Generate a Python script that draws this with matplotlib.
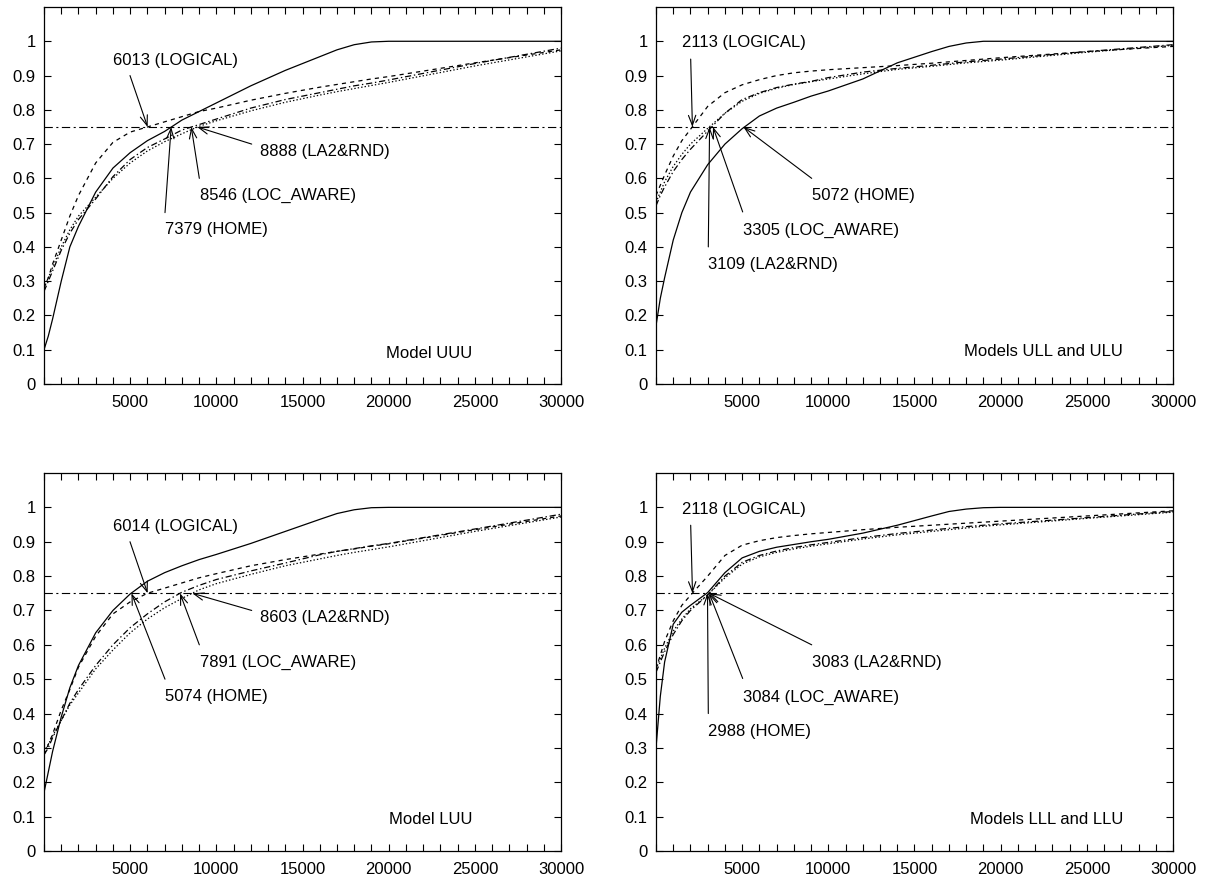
import matplotlib
matplotlib.use("Agg")
import matplotlib.pyplot as plt

plt.rcParams['font.family'] = ['Liberation Sans', 'DejaVu Sans']
plt.rcParams['font.size'] = 12
plt.rcParams['lines.scale_dashes'] = False

# ---------------------------
# Data
# ---------------------------
x = [0, 250, 500, 1000, 1500, 2000, 3000, 4000, 5000, 6000, 7000, 8000, 9000,
     10000, 12000, 14000, 16000, 17000, 18000, 19000, 20000, 25000, 30000]

# Model UUU
uuu_home = [0.10, 0.14, 0.19, 0.30, 0.40, 0.46, 0.56, 0.63, 0.675, 0.71, 0.737, 0.77, 0.795,
            0.82, 0.87, 0.915, 0.955, 0.975, 0.99, 0.998, 1.0, 1.0, 1.0]
uuu_logical = [0.28, 0.31, 0.35, 0.42, 0.49, 0.55, 0.645, 0.705, 0.735, 0.75, 0.765, 0.78, 0.795,
               0.805, 0.828, 0.848, 0.866, 0.874, 0.882, 0.89, 0.897, 0.937, 0.975]
uuu_locaware = [0.27, 0.30, 0.33, 0.39, 0.44, 0.48, 0.54, 0.605, 0.655, 0.69, 0.715, 0.741, 0.757,
                0.773, 0.805, 0.83, 0.85, 0.86, 0.87, 0.878, 0.887, 0.935, 0.98]
uuu_la2rnd = [0.28, 0.31, 0.34, 0.40, 0.45, 0.49, 0.545, 0.60, 0.645, 0.68, 0.707, 0.73, 0.752,
              0.768, 0.797, 0.822, 0.843, 0.853, 0.862, 0.871, 0.88, 0.928, 0.972]

# Models ULL and ULU
ull_home = [0.17, 0.25, 0.31, 0.42, 0.50, 0.56, 0.64, 0.70, 0.745, 0.782, 0.805, 0.822, 0.84,
            0.855, 0.89, 0.937, 0.97, 0.985, 0.995, 1.0, 1.0, 1.0, 1.0]
ull_logical = [0.55, 0.58, 0.61, 0.665, 0.71, 0.743, 0.81, 0.85, 0.873, 0.888, 0.90, 0.908, 0.913,
               0.917, 0.923, 0.929, 0.936, 0.94, 0.944, 0.948, 0.952, 0.97, 0.985]
ull_locaware = [0.52, 0.55, 0.575, 0.62, 0.655, 0.685, 0.738, 0.79, 0.83, 0.85, 0.865, 0.875, 0.883,
                0.894, 0.91, 0.921, 0.93, 0.935, 0.94, 0.944, 0.948, 0.97, 0.99]
ull_la2rnd = [0.53, 0.56, 0.59, 0.635, 0.67, 0.70, 0.746, 0.79, 0.825, 0.848, 0.863, 0.874, 0.882,
              0.89, 0.905, 0.918, 0.927, 0.932, 0.937, 0.941, 0.945, 0.968, 0.988]

# Model LUU
luu_home = [0.17, 0.23, 0.29, 0.39, 0.475, 0.54, 0.635, 0.70, 0.748, 0.785, 0.81, 0.83, 0.848,
            0.863, 0.895, 0.93, 0.965, 0.982, 0.993, 0.999, 1.0, 1.0, 1.0]
luu_logical = [0.28, 0.31, 0.34, 0.41, 0.47, 0.535, 0.625, 0.69, 0.725, 0.75, 0.765, 0.78, 0.795,
               0.807, 0.83, 0.848, 0.864, 0.872, 0.879, 0.887, 0.894, 0.935, 0.975]
luu_locaware = [0.28, 0.30, 0.33, 0.38, 0.43, 0.47, 0.54, 0.60, 0.65, 0.69, 0.725, 0.753, 0.773,
                0.79, 0.815, 0.838, 0.862, 0.872, 0.88, 0.888, 0.895, 0.937, 0.98]
luu_la2rnd = [0.29, 0.31, 0.335, 0.38, 0.425, 0.46, 0.53, 0.585, 0.635, 0.675, 0.708, 0.735, 0.76,
              0.778, 0.805, 0.83, 0.85, 0.86, 0.869, 0.877, 0.885, 0.93, 0.972]

# Models LLL and LLU
lll_home = [0.30, 0.45, 0.55, 0.66, 0.695, 0.715, 0.752, 0.81, 0.853, 0.872, 0.884, 0.892, 0.90,
            0.907, 0.925, 0.948, 0.975, 0.988, 0.995, 0.999, 1.0, 1.0, 1.0]
lll_logical = [0.53, 0.57, 0.61, 0.67, 0.715, 0.744, 0.80, 0.86, 0.89, 0.903, 0.912, 0.918, 0.923,
               0.927, 0.935, 0.942, 0.948, 0.951, 0.954, 0.957, 0.96, 0.975, 0.99]
lll_locaware = [0.52, 0.55, 0.58, 0.63, 0.67, 0.70, 0.745, 0.80, 0.84, 0.86, 0.873, 0.883, 0.891,
                0.898, 0.912, 0.924, 0.934, 0.939, 0.944, 0.948, 0.952, 0.97, 0.988]
lll_la2rnd = [0.53, 0.56, 0.59, 0.64, 0.675, 0.705, 0.745, 0.795, 0.835, 0.856, 0.869, 0.879, 0.887,
              0.894, 0.908, 0.92, 0.93, 0.935, 0.94, 0.945, 0.949, 0.968, 0.986]

titles = ["Model UUU", "Models ULL and ULU", "Model LUU", "Models LLL and LLU"]
series_names = ["HOME", "LOGICAL", "LOC_AWARE", "LA2&RND"]
# value where each curve reaches 0.75 (HOME, LOGICAL, LOC_AWARE, LA2&RND)
uuu_marks = [7379, 6013, 8546, 8888]
ull_marks = [5072, 2113, 3305, 3109]
luu_marks = [5074, 6014, 7891, 8603]
lll_marks = [2988, 2118, 3084, 3083]

panels = [
    (uuu_home, uuu_logical, uuu_locaware, uuu_la2rnd, uuu_marks),
    (ull_home, ull_logical, ull_locaware, ull_la2rnd, ull_marks),
    (luu_home, luu_logical, luu_locaware, luu_la2rnd, luu_marks),
    (lll_home, lll_logical, lll_locaware, lll_la2rnd, lll_marks),
]

# ---------------------------
# Layout
# ---------------------------
styles = ["-", (0, (3, 3)), (0, (4.5, 2, 1, 2)), (0, (1, 1.5))]

# label slots: (text x, text y, arrow tail x, arrow tail y)
left_slots = [(4004, 0.945, 4990, 0.90), (12534, 0.679, 12052, 0.70),
              (9052, 0.55, 9013, 0.60), (7021, 0.45, 7021, 0.50)]
right_slots = [(1491, 0.995, 2013, 0.948), (9035, 0.55, 9035, 0.60),
               (5030, 0.447, 5030, 0.502), (3035, 0.349, 3035, 0.40)]
# which slot each series (HOME, LOGICAL, LOC_AWARE, LA2&RND) uses
slot_order = [[3, 0, 2, 1], [1, 0, 2, 3], [3, 0, 2, 1], [3, 0, 2, 1]]

boxes = [
    [44 / 1205, 1 - 384 / 877, 517 / 1205, 377 / 877],
    [656 / 1205, 1 - 384 / 877, 517 / 1205, 377 / 877],
    [44 / 1205, 1 - 851 / 877, 517 / 1205, 378 / 877],
    [656 / 1205, 1 - 851 / 877, 517 / 1205, 378 / 877],
]
title_x = [24836, 27099, 24836, 27099]
title_y = [0.09, 0.095, 0.093, 0.093]

fig = plt.figure(figsize=(12.05, 8.77), dpi=100)

for i, (home, logical, locaware, la2rnd, marks) in enumerate(panels):
    ax = fig.add_axes(boxes[i])
    curves = [home, logical, locaware, la2rnd]
    for ys, ls in zip(curves, styles):
        ax.plot(x, ys, color="black", lw=0.9, linestyle=ls)
    ax.axhline(0.75, color="black", lw=0.8, linestyle=(0, (6, 2.5, 1.5, 2.5)))

    slots = left_slots if i % 2 == 0 else right_slots
    for k in range(4):
        tx, ty, tail_x, tail_y = slots[slot_order[i][k]]
        ax.annotate("", xy=(marks[k], 0.75), xytext=(tail_x, tail_y),
                    arrowprops=dict(arrowstyle="->,head_length=0.6,head_width=0.22",
                                    lw=0.8, color="black", shrinkA=0, shrinkB=0,
                                    mutation_scale=12))
        ax.text(tx, ty, "%d (%s)" % (marks[k], series_names[k]), ha="left", va="center")

    ax.text(title_x[i], title_y[i], titles[i], ha="right", va="center")

    ax.set_xlim(0, 30000)
    ax.set_ylim(0, 1.1)
    ax.set_xticks(range(0, 30001, 1000))
    ax.set_xticklabels([str(v) if v % 5000 == 0 and v > 0 else "" for v in range(0, 30001, 1000)])
    ax.set_yticks([j / 10 for j in range(11)])
    ax.set_yticklabels(["0", "0.1", "0.2", "0.3", "0.4", "0.5", "0.6", "0.7", "0.8", "0.9", "1"])
    ax.tick_params(direction="in", top=True, right=True, length=5, width=0.8)
    ax.tick_params(axis="x", pad=8)
    ax.tick_params(axis="y", pad=6)
    for s in ax.spines.values():
        s.set_linewidth(0.9)

plt.savefig("out.png", dpi=100)
